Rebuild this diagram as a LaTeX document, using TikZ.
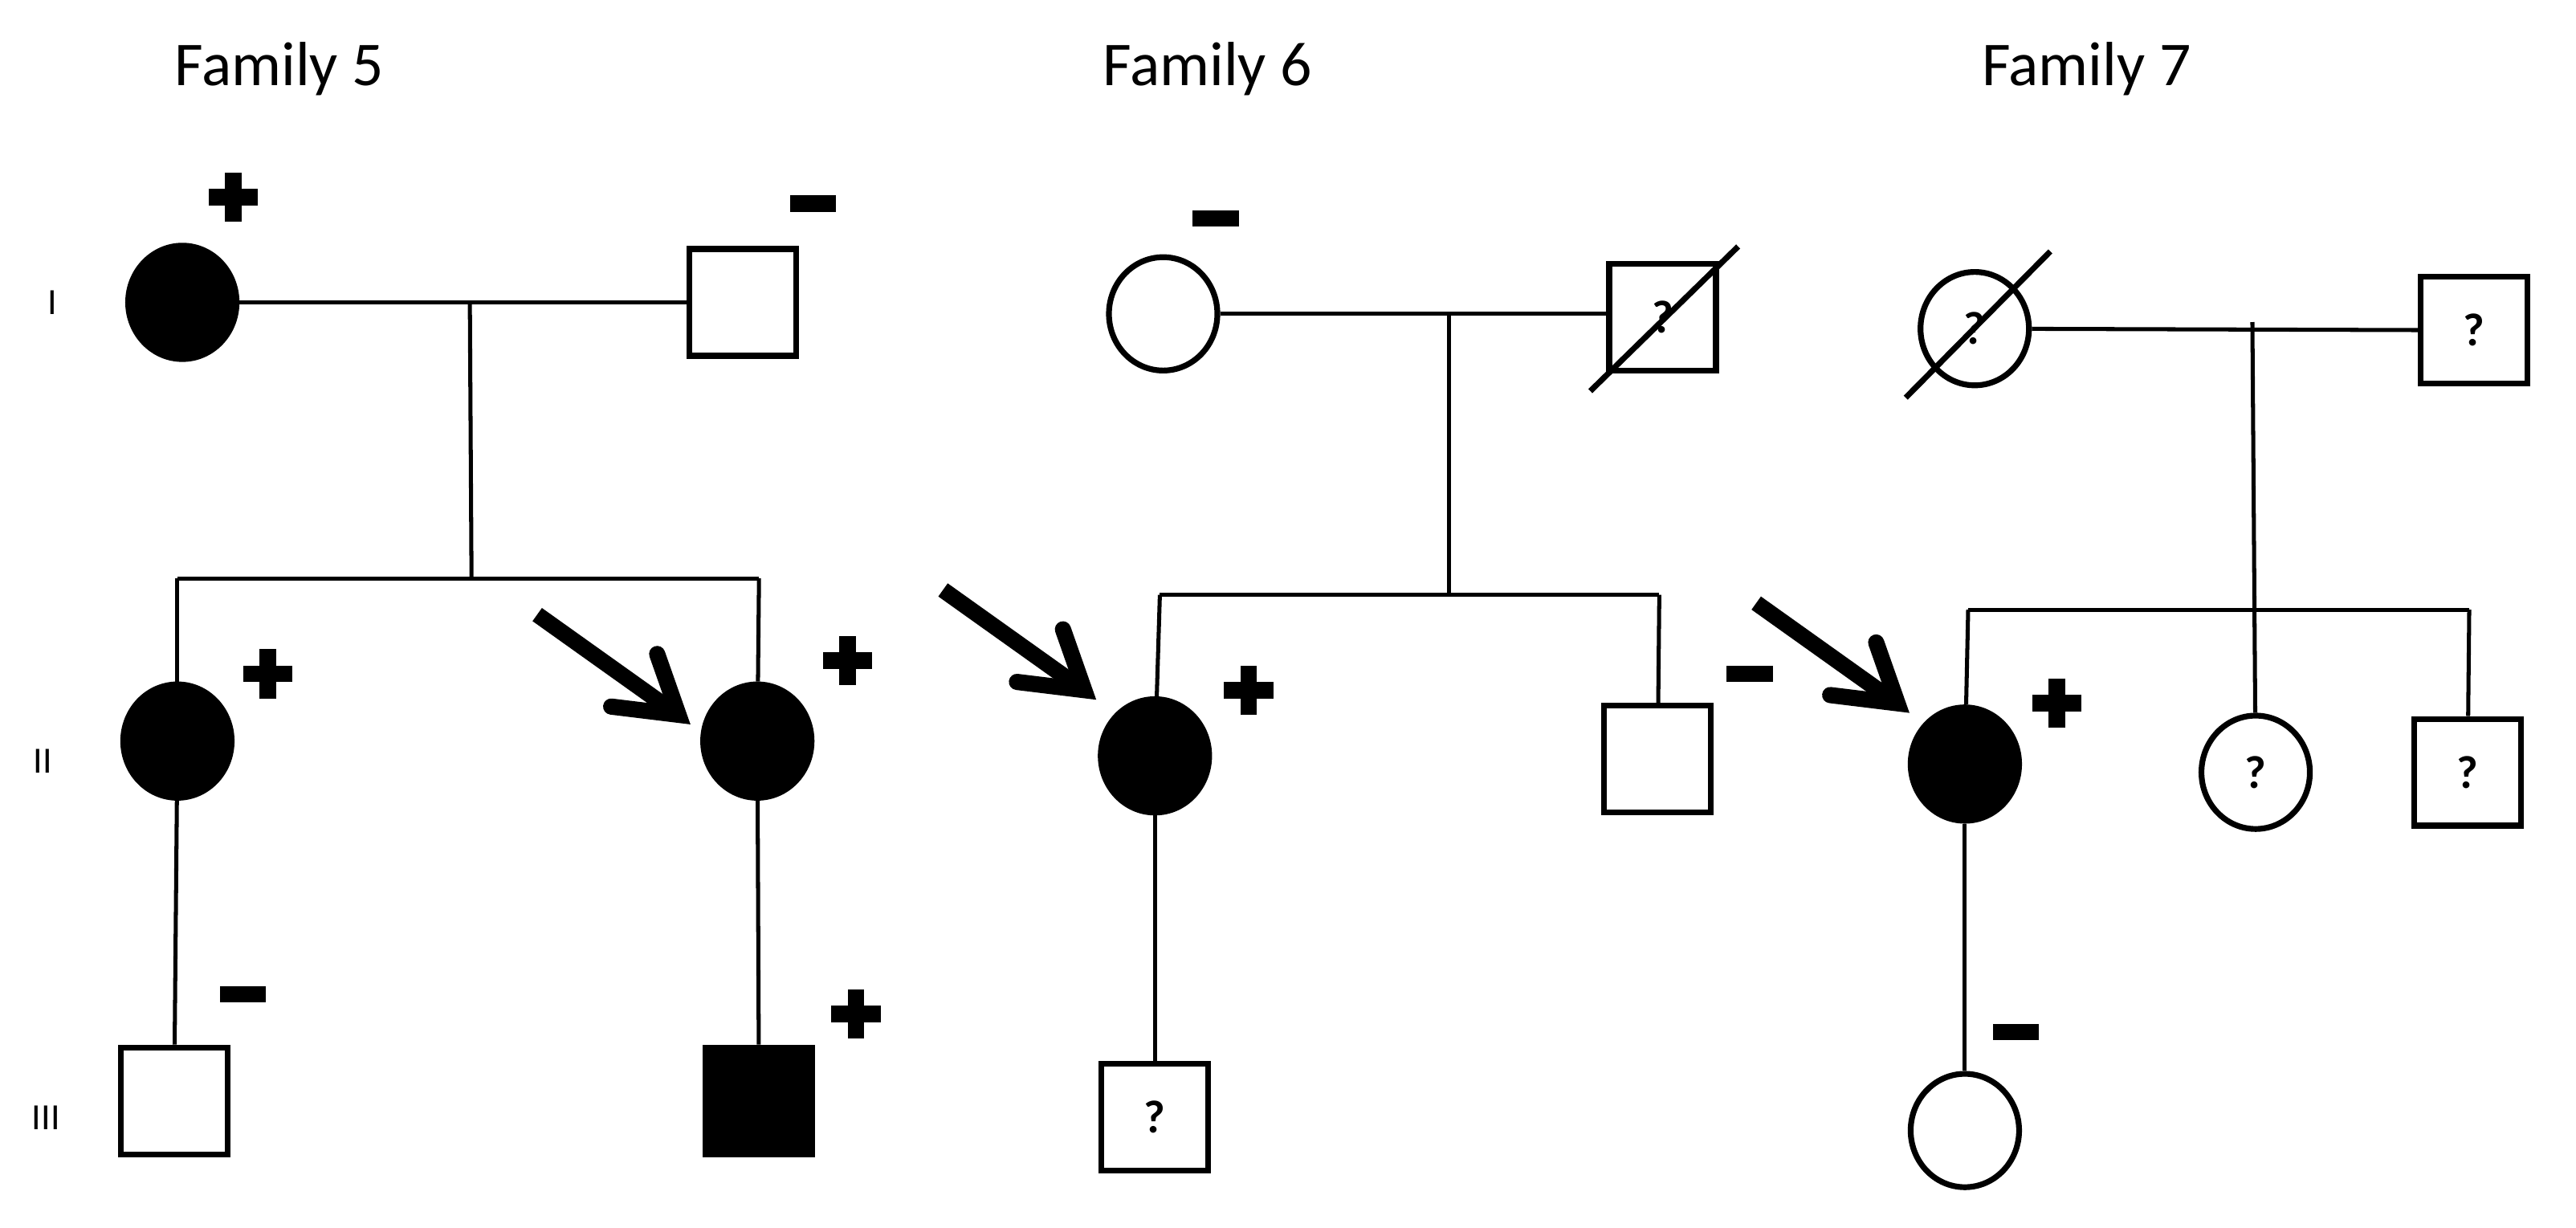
\documentclass[tikz,border=0pt]{standalone}
\usepackage{fontspec}
\setmainfont{Carlito}
\usetikzlibrary{shapes.geometric}
\begin{document}
\begin{tikzpicture}[x=0.05cm,y=-0.05cm,
  fem/.style={ellipse,draw,line width=5pt,minimum width=3.3cm,minimum height=3.45cm,inner sep=0pt,font=\fontsize{40}{40}\selectfont\bfseries},
  mal/.style={rectangle,draw,line width=5pt,minimum size=3.25cm,inner sep=0pt,font=\fontsize{40}{40}\selectfont\bfseries},
  aff/.style={fill=black},
  ln/.style={line width=3.5pt},
  fam/.style={font=\fontsize{54}{54}\selectfont},
  gen/.style={font=\fontsize{32}{32}\selectfont},
  plus/.style={fill=black},
]
\useasboundingbox (0,0) rectangle (1568,747);
\def\plusat#1#2{\fill (#1-15,#2-5) rectangle (#1+15,#2+5); \fill (#1-5,#2-15) rectangle (#1+5,#2+15);}
\def\minusat#1#2{\fill (#1-14,#2-5) rectangle (#1+14,#2+5);}
\def\arrowto#1#2{\draw[line width=14pt,line cap=butt] (#1-86,#2-61) -- (#1-6,#2-4);
  \draw[line width=14pt,line cap=round,line join=miter] (#1-41,#2-5) -- (#1,#2) -- (#1-13,#2-37);}
% titles
\node[fam] (t5) at (170,42) {Family 5};
\node[fam] (t6) at (735,42) {Family 6};
\node[fam] (t7) at (1270,42) {Family 7};
\node[gen] (g1) at (32,184) {I};
\node[gen] (g2) at (26,463) {II};
\node[gen] (g3) at (28,680) {III};
% Family 5
\node[fem,aff] (a1) at (111,184) {};
\node[mal] (a2) at (452,184) {};
\node[fem,aff] (a3) at (108,451) {};
\node[fem,aff] (a4) at (461,451) {};
\node[mal] (a5) at (106,670) {};
\node[mal,aff] (a6) at (462,670) {};
\draw[ln] (a1) -- (a2);
\coordinate (a12) at (286,184);
\coordinate (as) at (287,352);
\draw[ln] (a12) -- (as);
\draw[ln] (108,352) -- (462,352);
\draw[ln] (108,352) -- (a3);
\draw[ln] (462,352) -- (a4);
\draw[ln] (a3) -- (a5);
\draw[ln] (a4) -- (a6);
\plusat{142}{120} \minusat{495}{124} \plusat{163}{410} \plusat{516}{402}
\minusat{148}{605} \plusat{521}{617}
\arrowto{413}{435}
% Family 6
\node[fem] (b1) at (708,191) {};
\node[mal] (b2) at (1012,193) {?};
\draw[line width=5pt] (968,238) -- (1058,150);
\node[fem,aff] (b3) at (703,460) {};
\node[mal] (b4) at (1009,462) {};
\node[mal] (b5) at (703,680) {?};
\draw[ln] (b1) -- (b2.west|-b1);
\coordinate (b12) at (882,191);
\coordinate (bs) at (882,362);
\draw[ln] (b12) -- (bs);
\draw[ln] (706,362) -- (1010,362);
\draw[ln] (706,362) -- (b3);
\draw[ln] (1010,362) -- (b4);
\draw[ln] (b3) -- (b5);
\minusat{740}{133} \plusat{760}{420} \minusat{1065}{410}
\arrowto{660}{420}
% Family 7
\node[fem] (c1) at (1202,200) {?};
\draw[line width=5pt] (1160,242) -- (1248,153);
\node[mal] (c2) at (1506,201) {?};
\node[fem,aff] (c3) at (1196,465) {};
\node[fem] (c4) at (1373,470) {?};
\node[mal] (c5) at (1502,470) {?};
\node[fem] (c6) at (1196,688) {};
\draw[ln] (c1) -- (c2);
\coordinate (c12) at (1371,196);
\draw[ln] (c12) -- (c4);
\draw[ln] (1198,371) -- (1503,371);
\draw[ln] (1198,371) -- (c3);
\draw[ln] (1503,371) -- (c5);
\draw[ln] (c3) -- (c6);
\plusat{1252}{428} \minusat{1227}{628}
\arrowto{1155}{428}
\end{tikzpicture}
\end{document}
